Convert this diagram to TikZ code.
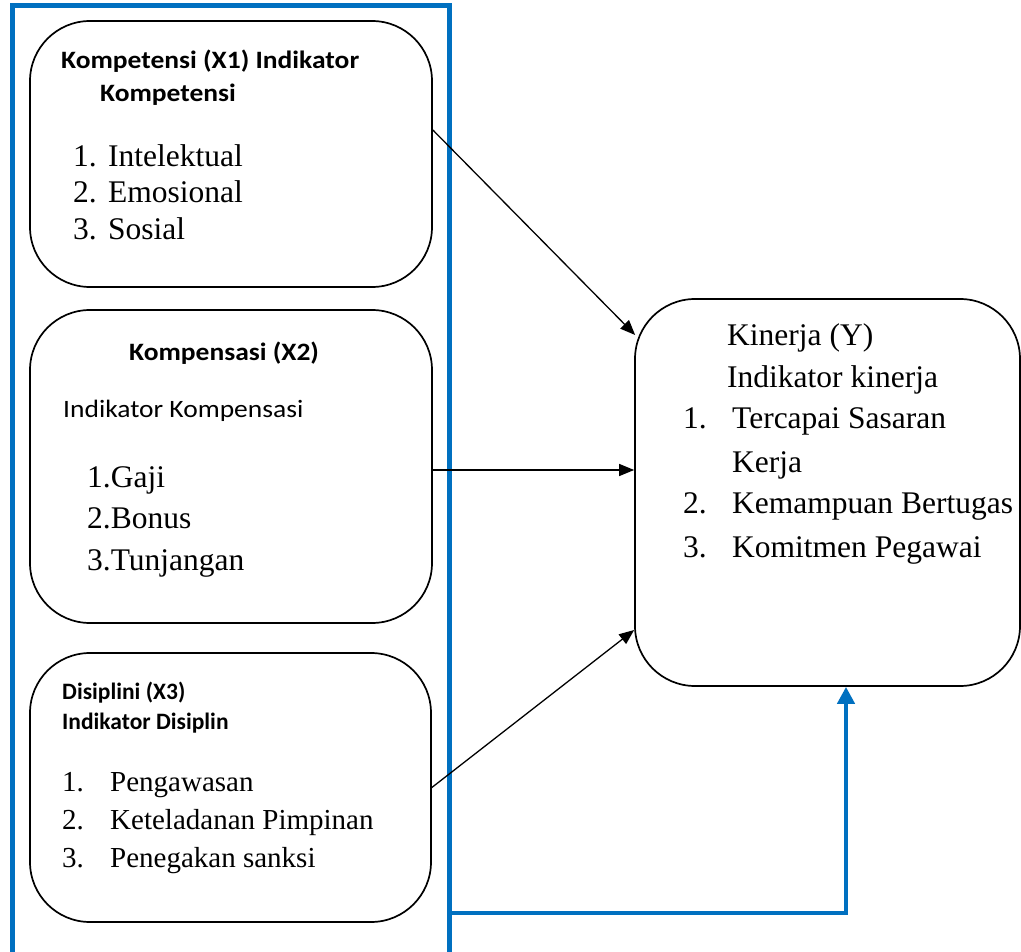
\documentclass[tikz,border=0pt]{standalone}
\usepackage{fontspec}
\setmainfont{Liberation Serif}
\newfontfamily\carl[FakeStretch=1.1]{Carlito}
\newfontfamily\carln{Carlito}
\usetikzlibrary{arrows.meta}
\definecolor{fblue}{RGB}{0,112,192}
\begin{document}
\begin{tikzpicture}[x=1pt,y=-1pt,
  box/.style={draw, line width=1.7pt, rounded corners=60pt, inner sep=0pt},
  txt/.style={anchor=base west, inner sep=0pt, font=\fontsize{31.5}{31.5}\selectfont},
  txtsm/.style={anchor=base west, inner sep=0pt, font=\fontsize{29}{29}\selectfont},
  hd/.style={anchor=base west, inner sep=0pt, font=\carl\bfseries\fontsize{25}{25}\selectfont},
  hdsm/.style={anchor=base west, inner sep=0pt, font=\carln\bfseries\fontsize{23.5}{23.5}\selectfont},
  hdr/.style={anchor=base west, inner sep=0pt, font=\carl\fontsize{25}{25}\selectfont},
  arr/.style={line width=1.3pt, -{Triangle[length=15pt,width=12pt]}},
  barr/.style={fblue, line width=4.5pt, -{Triangle[length=17pt,width=17pt]}}]
\useasboundingbox (0,0) rectangle (1021,952);
\fill[white] (0,0) rectangle (1021,952);
% blue frame
\draw[fblue, line width=5pt] (12.5,975) -- (12.5,6) -- (449.5,6) -- (449.5,975);
% boxes
\node[box, minimum width=402pt, minimum height=266pt] (k1) at (231,154) {};
\node[box, minimum width=402pt, minimum height=313pt] (k2) at (231,466.5) {};
\node[box, minimum width=401pt, minimum height=269pt] (k3) at (230.5,787.5) {};
\node[box, minimum width=385pt, minimum height=387pt] (Y) at (827.5,492.5) {};
% box 1 text
\node[hd] (h1a) at (61,69) {Kompetensi (X1) Indikator};
\node[hd] (h1b) at (100,102) {Kompetensi};
\node[txt] (n11) at (73,167) {1.};
\node[txt] (i11) at (108,167) {Intelektual};
\node[txt] (n12) at (73,203) {2.};
\node[txt] (i12) at (108,203) {Emosional};
\node[txt] (n13) at (73,240) {3.};
\node[txt] (i13) at (108,240) {Sosial};
% box 2 text
\node[hd] (h2a) at (129,360) {Kompensasi (X2)};
\node[hdr] (h2b) at (63,417) {Indikator Kompensasi};
\node[txt] (i21) at (87,487) {1.Gaji};
\node[txt] (i22) at (87,528) {2.Bonus};
\node[txt] (i23) at (87,570) {3.Tunjangan};
% box 3 text
\node[hdsm] (h3a) at (62,699) {Disiplini (X3)};
\node[hdsm] (h3b) at (62,729) {Indikator Disiplin};
\node[txtsm] (n31) at (62,791) {1.};
\node[txtsm] (i31) at (110,791) {Pengawasan};
\node[txtsm] (n32) at (62,829) {2.};
\node[txtsm] (i32) at (110,829) {Keteladanan Pimpinan};
\node[txtsm] (n33) at (62,867) {3.};
\node[txtsm] (i33) at (110,867) {Penegakan sanksi};
% Y text
\node[txt] (hy1) at (727,345) {Kinerja (Y)};
\node[txt] (hy2) at (727,388) {Indikator kinerja};
\node[txt] (ny1) at (683,428) {1.};
\node[txt] (iy1) at (732,428) {Tercapai Sasaran};
\node[txt] (iy1b) at (732,472) {Kerja};
\node[txt] (ny2) at (683,513) {2.};
\node[txt] (iy2) at (732,513) {Kemampuan Bertugas};
\node[txt] (ny3) at (683,557) {3.};
\node[txt] (iy3) at (732,557) {Komitmen Pegawai};
% arrows
\draw[arr] ([yshift=24pt]k1.east) -- ([xshift=1pt,yshift=157.5pt]Y.west);
\draw[arr] ([yshift=-3.5pt]k2.east) -- ([yshift=-3.5pt]k2.east -| Y.west);
\draw[arr] (k3.east) -- ([yshift=-137.5pt]Y.west);
% blue feedback arrow
\coordinate (fb) at (449.5,913);
\coordinate (yt) at ([xshift=18.5pt]Y.south);
\draw[barr] (fb) -| (yt);
\end{tikzpicture}
\end{document}
